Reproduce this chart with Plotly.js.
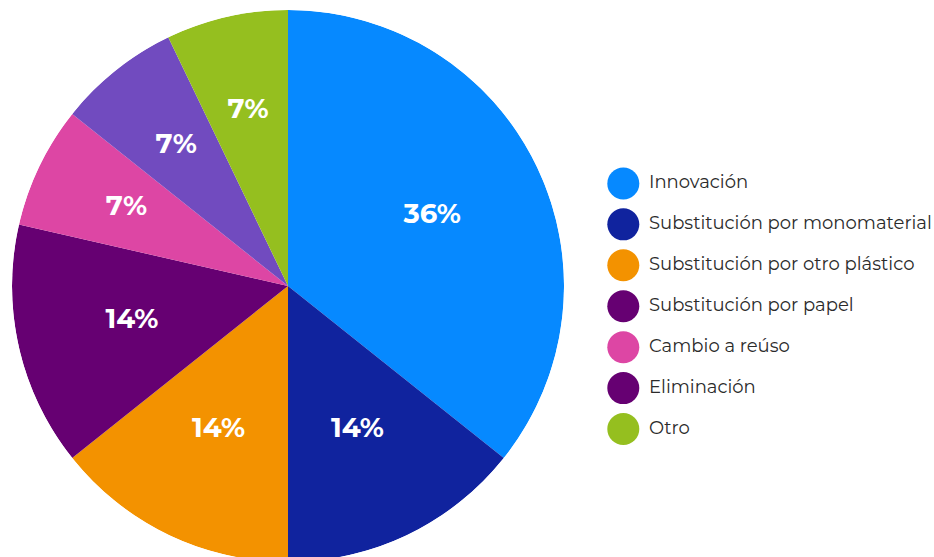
<!DOCTYPE html>
<html><head><meta charset="utf-8">
<script src="https://cdn.plot.ly/plotly-3.0.1.min.js"></script>
<style>html,body{margin:0;padding:0;overflow:hidden;background:#fff}#chart{width:934px;height:565px}</style>
</head><body><div id="chart"></div>
<script>
const categories = ["Innovación","Substitución por monomaterial","Substitución por otro plástico","Substitución por papel","Cambio a reúso","Eliminación","Otro"];
const counts = [5,2,2,2,1,1,1];
const sliceColors = ["#0689FF","#10239E","#F39200","#660072","#DD46A4","#714BBF","#95BF1F"];
const legendColors = ["#0689FF","#10239E","#F39200","#660072","#DD46A4","#660072","#95BF1F"];
const legendRows = [0,1,2,3,4,5,6];

const W = 934, H = 565;
const FONT = 'Montserrat, "Open Sans", Lato, sans-serif';
const total = counts.reduce((a,b)=>a+b,0);
const widths = counts.map(v => v/total*360);
const centers = [];
let acc = 0;
widths.forEach(w => { centers.push(acc + w/2); acc += w; });
const pctText = counts.map(v => Math.round(v/total*100) + '%');
const labelR = counts.map(v => v/total > 0.1 ? 0.58 : 0.65);

const polarDomain = {x:[12/W, 564/W], y:[1-562/H, 1-10/H]};
const wedges = {
  type:'barpolar', r:counts.map(()=>1), theta:centers, width:widths,
  marker:{color:sliceColors, line:{width:0}},
  text:categories, hoverinfo:'text', showlegend:false, subplot:'polar'
};
const labels = {
  type:'scatterpolar', mode:'text', r:labelR, theta:centers, text:pctText,
  textfont:{family:FONT, size:27.5, color:'#ffffff', weight:700},
  hoverinfo:'skip', showlegend:false, subplot:'polar', cliponaxis:false
};
const legendMarks = {
  type:'scatter', mode:'markers', x:categories.map(()=>23.3), y:legendRows,
  marker:{size:32, color:legendColors, symbol:'circle', line:{width:0}},
  xaxis:'x2', yaxis:'y2', showlegend:false, hoverinfo:'skip', cliponaxis:false
};
const legendText = {
  type:'scatter', mode:'text', x:categories.map(()=>49), y:legendRows,
  text:categories, textposition:'middle right',
  textfont:{family:FONT, size:18, color:'#2b2b2b'},
  xaxis:'x2', yaxis:'y2', showlegend:false, hoverinfo:'skip', cliponaxis:false
};
const layout = {
  width:W, height:H, margin:{l:0,r:0,t:0,b:0}, paper_bgcolor:'#fff', plot_bgcolor:'rgba(0,0,0,0)',
  showlegend:false, bargap:0,
  polar:{domain:polarDomain, bgcolor:'rgba(0,0,0,0)', hole:0,
    radialaxis:{range:[0,1], visible:false, showgrid:false},
    angularaxis:{rotation:90, direction:'clockwise', visible:false, showgrid:false, showline:false}},
  xaxis2:{domain:[600/W,1], range:[0,334], visible:false, fixedrange:true},
  yaxis2:{domain:[1-470/H, 1-142.5/H], range:[7,-1], visible:false, fixedrange:true, anchor:'x2'}
};
Plotly.newPlot('chart',[wedges,labels,legendMarks,legendText],layout,{displayModeBar:false,staticPlot:true});
</script></body></html>
